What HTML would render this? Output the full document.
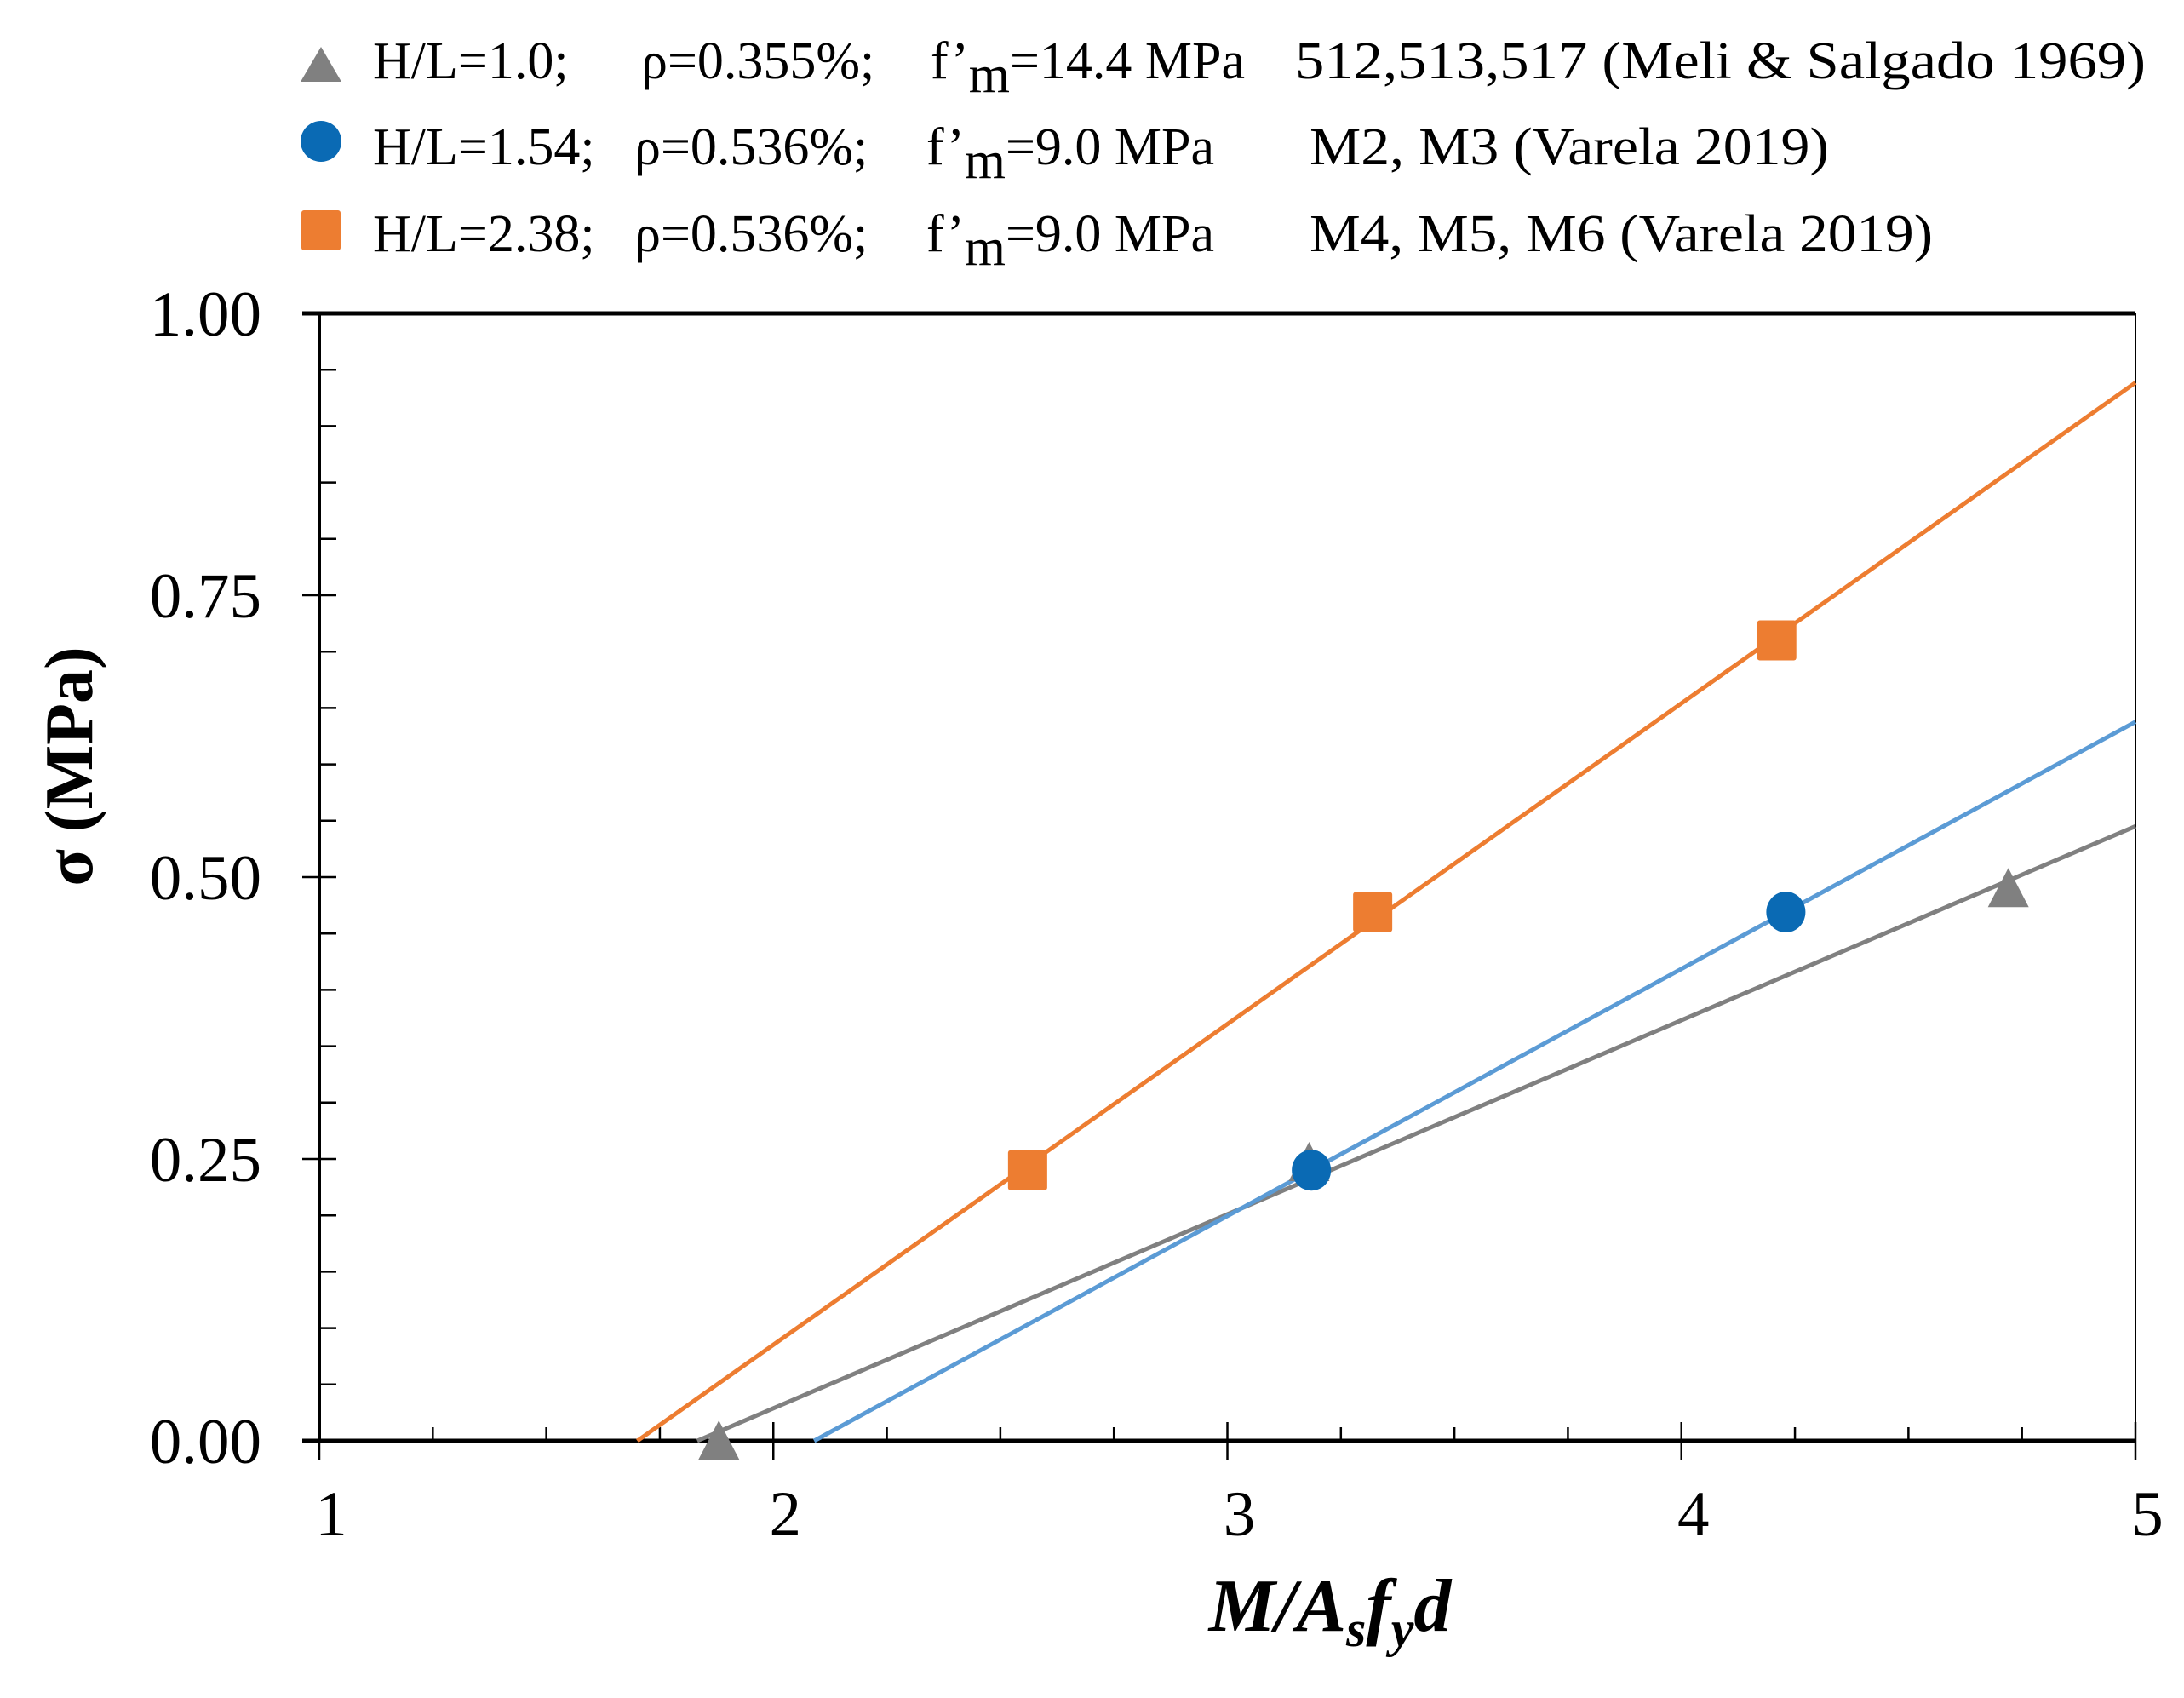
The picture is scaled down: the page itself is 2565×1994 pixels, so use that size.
<!DOCTYPE html>
<html><head><meta charset="utf-8"><style>
html,body{margin:0;padding:0;background:#fff}
svg{display:block}
text{font-family:"Liberation Serif",serif}
</style></head><body>
<svg id="chart" width="2565" height="1994" viewBox="0 0 2565 1994" xmlns="http://www.w3.org/2000/svg">
<g id="legend" font-size="62" fill="#000">
  <g>
    <polygon points="353,96 377,55 401,96" fill="#808080"/>
    <text y="92"><tspan x="438">H/L=1.0;</tspan><tspan x="753">ρ=0.355%;</tspan><tspan x="1093">f’</tspan><tspan dy="16">m</tspan><tspan dy="-16">=14.4 MPa</tspan><tspan x="1521" textLength="999" lengthAdjust="spacingAndGlyphs">512,513,517 (Meli &amp; Salgado 1969)</tspan></text>
  </g>
  <g>
    <ellipse cx="377" cy="166" rx="24" ry="24" fill="#0A6AB4"/>
    <text y="193"><tspan x="438">H/L=1.54;</tspan><tspan x="745">ρ=0.536%;</tspan><tspan x="1088">f’</tspan><tspan dy="16">m</tspan><tspan dy="-16">=9.0 MPa</tspan><tspan x="1538" textLength="610" lengthAdjust="spacingAndGlyphs">M2, M3 (Varela 2019)</tspan></text>
  </g>
  <g>
    <rect x="354" y="247" width="46" height="47" rx="3" fill="#ED7D31"/>
    <text y="295"><tspan x="438">H/L=2.38;</tspan><tspan x="745">ρ=0.536%;</tspan><tspan x="1088">f’</tspan><tspan dy="16">m</tspan><tspan dy="-16">=9.0 MPa</tspan><tspan x="1538" textLength="732" lengthAdjust="spacingAndGlyphs">M4, M5, M6 (Varela 2019)</tspan></text>
  </g>
</g>
<g id="axes"></g>
<g id="lines"></g>
<g id="marks"></g>
<text transform="translate(108,900) rotate(-90)" text-anchor="middle" font-size="80" font-weight="bold">σ  (MPa)</text>
<text x="1562" y="1915" text-anchor="middle" font-size="88" font-weight="bold" font-style="italic">M/A<tspan dy="18" font-size="60">s</tspan><tspan dy="-18">f</tspan><tspan dy="18" font-size="60">y</tspan><tspan dy="-18">d</tspan></text>
</svg>
<script>
const xTicks = [1, 2, 3, 4, 5];
const yTicks = [0.00, 0.25, 0.50, 0.75, 1.00];
const yTickLabels = ["0.00", "0.25", "0.50", "0.75", "1.00"];
const meliX = [1.88, 3.18, 4.72];
const meliY = [0.00, 0.247, 0.49];
const m23X = [3.185, 4.23];
const m23Y = [0.24, 0.469];
const m456X = [2.56, 3.32, 4.21];
const m456Y = [0.24, 0.469, 0.71];

const L = 375, R = 2508, T = 368, B = 1692;
const xMin = 1, xMax = 5, yMin = 0, yMax = 1;
function sx(v){ return L + (v - xMin) / (xMax - xMin) * (R - L); }
function sy(v){ return B - (v - yMin) / (yMax - yMin) * (B - T); }
const NS = "http://www.w3.org/2000/svg";
function mk(tag, attrs, parent){
  const e = document.createElementNS(NS, tag);
  for (const k in attrs) e.setAttribute(k, attrs[k]);
  parent.appendChild(e); return e;
}
const axes = document.getElementById('axes');
const lines = document.getElementById('lines');
const marks = document.getElementById('marks');

// frame
let fr = mk('rect', {x:L, y:T, width:R-L, height:B-T, fill:'none', stroke:'#000', 'stroke-width':2}, axes);


let xa = mk('line', {x1:L-20, y1:B, x2:R, y2:B, stroke:'#000', 'stroke-width':5}, axes);


let ya = mk('line', {x1:L, y1:B, x2:L, y2:T, stroke:'#000', 'stroke-width':4}, axes);


let ta = mk('line', {x1:L-20, y1:T, x2:R, y2:T, stroke:'#000', 'stroke-width':5}, axes);



// x minor ticks
for (let v = xMin; v <= xMax + 1e-9; v += 0.25) {
  const major = Math.abs(v - Math.round(v)) < 1e-9;
  const t = mk('line', {x1:sx(v), x2:sx(v), y1: major ? B-22 : B-16, y2: major ? B+22 : B, stroke:'#000', 'stroke-width':2.5}, axes);
  
  
}
xTicks.forEach(v => {
  const t = mk('text', {x:sx(v)+14, y:1803, 'text-anchor':'middle', 'font-size':75}, axes);
  t.textContent = String(v);
  
  
});
// y ticks
for (let v = yMin; v <= yMax + 1e-9; v += 0.05) {
  const major = Math.abs(v/0.25 - Math.round(v/0.25)) < 1e-6;
  const t = mk('line', {x1: major ? L-20 : L, x2: L+20, y1:sy(v), y2:sy(v), stroke:'#000', 'stroke-width':2.5}, axes);
  
  
}
yTicks.forEach((v, i) => {
  const t = mk('text', {x:307, y:sy(v)+26, 'text-anchor':'end', 'font-size':75}, axes);
  t.textContent = yTickLabels[i];
  
  
});

function fit(xs, ys){
  const n = xs.length;
  const mx = xs.reduce((a,b)=>a+b,0)/n, my = ys.reduce((a,b)=>a+b,0)/n;
  let num = 0, den = 0;
  for (let i=0;i<n;i++){ num += (xs[i]-mx)*(ys[i]-my); den += (xs[i]-mx)*(xs[i]-mx); }
  const m = num/den; return {m, b: my - m*mx};
}
function trend(xs, ys, color, name){
  const f = fit(xs, ys);
  const x0 = Math.max(xMin, -f.b / f.m);
  const l = mk('line', {x1:sx(x0), y1:sy(f.m*x0+f.b), x2:sx(xMax), y2:sy(f.m*xMax+f.b), stroke:color, 'stroke-width':5}, lines);
  
  
}
trend(meliX, meliY, '#808080', 'trendline-meli');
trend(m23X, m23Y, '#5B9BD5', 'trendline-m2-m3');
trend(m456X, m456Y, '#ED7D31', 'trendline-m4-m6');

meliX.forEach((v, i) => {
  const cx = sx(v), cy = sy(meliY[i]);
  const p = mk('polygon', {points:`${cx-24},${cy+22} ${cx},${cy-24} ${cx+24},${cy+22}`, fill:'#808080'}, marks);
  
  
});
m23X.forEach((v, i) => {
  const c = mk('ellipse', {cx:sx(v), cy:sy(m23Y[i]), rx:23, ry:24, fill:'#0A6AB4'}, marks);
  
  
});
m456X.forEach((v, i) => {
  const r = mk('rect', {x:sx(v)-23, y:sy(m456Y[i])-23.5, width:46, height:47, rx:3, fill:'#ED7D31'}, marks);
  
  
});
</script>
</body></html>
